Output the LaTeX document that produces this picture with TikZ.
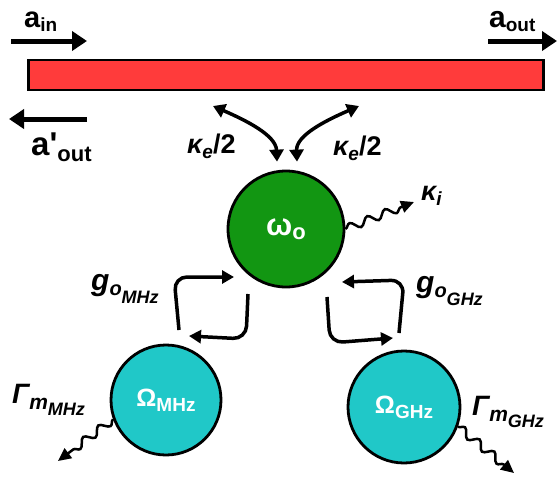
\documentclass[tikz,border=0pt]{standalone}
\usepackage{fontspec}
\setmainfont{Liberation Sans}
\usetikzlibrary{arrows.meta,decorations.pathmorphing}

\definecolor{guidered}{RGB}{255,59,59}
\definecolor{opticgreen}{RGB}{18,150,18}
\definecolor{mechcyan}{RGB}{32,200,200}
% lowered smaller text: drop (pt), size (pt), text
\newcommand{\lowered}[3]{\raisebox{-#1pt}{\fontsize{#2}{#2}\selectfont #3}}

\begin{document}
\begin{tikzpicture}
    [x=1pt, y=-1pt,
     arr/.style={line width=5pt, -{Triangle[length=15pt,width=19pt]}},
     looparr/.style={line width=3.5pt, rounded corners=13pt, -{Triangle[length=12pt,width=13pt]}},
     twoway/.style={line width=3.5pt, {Triangle[length=12pt,width=14pt]}-{Triangle[length=12pt,width=14pt]}},
     loss/.style={line width=2.5pt, -{Triangle[length=13pt,width=12pt]}, decorate,
                  decoration={snake, amplitude=4pt, segment length=19pt, post length=12pt}},
     mode/.style={circle, draw=black, line width=2.8pt, inner sep=0pt, text=white, font=\bfseries},
     lbl/.style={inner sep=0pt, anchor=base west, font=\bfseries}]
    \useasboundingbox (0,0) rectangle (557,477);
    % waveguide
    \node[draw=black, fill=guidered, line width=2.8pt, minimum width=515pt, minimum height=30pt, inner sep=0pt]
        (guide) at (286,75) {};
    % modes
    \node[mode, fill=opticgreen, minimum size=116pt] (omega) at (286,229)
        {\fontsize{31}{31}\selectfont ω\lowered{4}{22}{o}};
    \node[mode, fill=mechcyan, minimum size=110pt] (OmMHz) at (166,400)
        {\fontsize{25}{25}\selectfont Ω\lowered{5}{19}{MHz}};
    \node[mode, fill=mechcyan, minimum size=112pt] (OmGHz) at (404,407)
        {\fontsize{25}{25}\selectfont Ω\lowered{5}{19}{GHz}};
    % free arrow ends
    \coordinate (ain1) at (11,41);  \coordinate (ain2) at (87,41);
    \coordinate (aout1) at (488,41); \coordinate (aout2) at (557,41);
    \coordinate (arefl1) at (87,119); \coordinate (arefl2) at (9,119);
    \coordinate (keL) at (213,106);  \coordinate (keR) at (359,106);
    \coordinate (kiend) at (414,202);
    \coordinate (gmEnd) at (58,461); \coordinate (ggEnd) at (514,473);
    % loop corners
    \coordinate (gM1) at (179,330); \coordinate (gM2) at (174,277); \coordinate (gM3) at (234,277);
    \coordinate (gM4) at (248,294); \coordinate (gM5) at (246,339); \coordinate (gM6) at (189,336);
    \coordinate (gG1) at (399,333); \coordinate (gG2) at (404,280); \coordinate (gG3) at (342,282);
    \coordinate (gG4) at (327,297); \coordinate (gG5) at (330,343); \coordinate (gG6) at (393,338);
    % input / output
    \draw[arr] (ain1) -- (ain2);
    \draw[arr] (aout1) -- (aout2);
    \draw[arr] (arefl1) -- (arefl2);
    \node[lbl] (ainlbl) at (24,27) {\fontsize{29}{29}\selectfont a\lowered{4}{19}{in}};
    \node[lbl] (aoutlbl) at (489,27) {\fontsize{30}{30}\selectfont a\lowered{4}{19}{out}};
    \node[lbl] (areflbl) at (31,155) {\fontsize{33}{33}\selectfont a\textquotesingle\lowered{6}{22}{out}};
    % external coupling
    \draw[twoway] (keL) .. controls (245,120) and (276,135) .. ([shift={(-9,-8)}]omega.north);
    \draw[twoway] (keR) .. controls (327,120) and (296,135) .. ([shift={(11,-8)}]omega.north);
    \node[lbl] (keLlbl) at (187,153) {\fontsize{27}{27}\selectfont{\itshape κ\lowered{5}{19}{e}}/2};
    \node[lbl] (keRlbl) at (333,155) {\fontsize{27}{27}\selectfont{\itshape κ\lowered{5}{19}{e}}/2};
    % intrinsic loss
    \draw[loss] (omega.east) -- (kiend);
    \node[lbl] (kilbl) at (421,200) {\fontsize{27}{27}\selectfont\itshape κ\lowered{5}{19}{i}};
    % mechanical damping
    \draw[loss] (OmMHz.200) -- (gmEnd);
    \draw[loss] (OmGHz.-20) -- (ggEnd);
    \node[lbl] (gmlbl) at (12,403) {\fontsize{28}{28}\selectfont\itshape Γ\lowered{6}{21}{m\lowered{6}{18}{MHz}}};
    \node[lbl] (gglbl) at (472,415) {\fontsize{28}{28}\selectfont\itshape Γ\lowered{6}{21}{m\lowered{6}{18}{GHz}}};
    % optomechanical coupling
    \draw[looparr] (gM1) -- (gM2) -- (gM3);
    \draw[looparr] (gM4) -- (gM5) -- (gM6);
    \draw[looparr] (gG1) -- (gG2) -- (gG3);
    \draw[looparr] (gG4) -- (gG5) -- (gG6);
    \node[lbl] (gMlbl) at (91,290) {\fontsize{30}{30}\selectfont\itshape g\lowered{5}{20}{o\lowered{8}{18}{MHz}}};
    \node[lbl] (gGlbl) at (416,292) {\fontsize{30}{30}\selectfont\itshape g\lowered{5}{20}{o\lowered{8}{18}{GHz}}};
\end{tikzpicture}
\end{document}
